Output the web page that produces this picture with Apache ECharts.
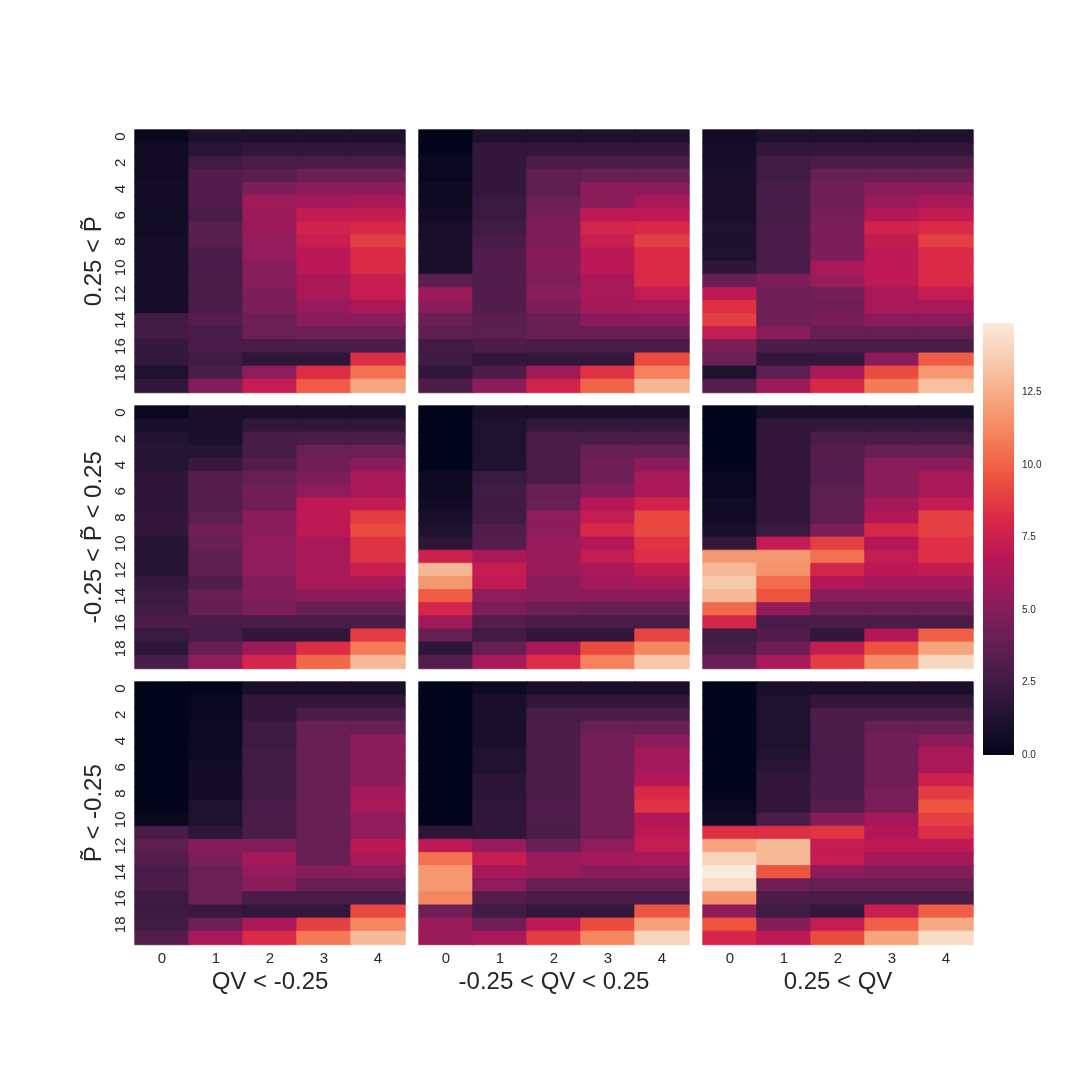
<!DOCTYPE html>
<html><head><meta charset="utf-8">
<script src="https://cdn.jsdelivr.net/npm/echarts@6/dist/echarts.min.js"></script>
<style>html,body{margin:0;padding:0;background:#fff}#chart{width:1080px;height:1080px}</style>
</head><body><div id="chart"></div>
<script>
// ---------- DATA ----------
const xCategories = ['0','1','2','3','4'];
const yCategories = ['0','1','2','3','4','5','6','7','8','9','10','11','12','13','14','15','16','17','18','19'];
const rowNames = ['0.25 < P\u0303', '-0.25 < P\u0303 < 0.25', 'P\u0303 < -0.25'];
const colNames = ['QV < -0.25', '-0.25 < QV < 0.25', '0.25 < QV'];
const colorbarTicks = [0, 2.5, 5, 7.5, 10, 12.5];
const colorMax = 14.9;

// each panel: values[column][row]  (5 columns x 20 rows)
const hiP_loQV = [
  [0.3,0.6,0.6,0.6,0.8,0.8,0.65,0.65,0.85,0.85,0.85,0.85,0.85,0.85,2.6,2.6,2.1,2.1,1.2,2.0],
  [1.2,1.6,2.5,3.2,3.2,3.2,2.9,3.4,3.4,2.9,2.9,2.9,2.9,2.9,3.3,2.9,2.9,2.5,3.0,4.9],
  [1.2,1.9,2.9,3.5,4.7,5.9,5.8,5.8,5.5,5.5,5.1,5.1,4.7,4.7,4.1,4.1,2.9,1.9,5.3,7.2],
  [1.2,1.9,2.9,4.1,5.2,6.0,7.2,7.7,7.4,6.9,6.9,6.3,6.3,5.6,5.2,4.2,2.9,1.9,8.3,9.8],
  [1.2,1.9,2.9,4.1,5.2,6.3,7.2,8.1,8.9,8.2,8.2,7.3,7.3,6.3,5.2,4.2,2.9,8.3,10.5,12.3]
];
const hiP_midQV = [
  [0.0,0.0,0.3,0.3,0.5,0.5,0.7,1.0,1.0,1.0,1.0,3.5,5.8,5.2,4.1,3.7,2.5,2.5,1.9,3.0],
  [1.2,2.0,2.0,2.0,2.0,2.3,2.3,2.5,2.8,3.2,3.2,3.2,3.2,3.2,3.5,3.5,3.0,2.0,3.0,5.2],
  [1.2,2.0,2.9,3.7,3.7,4.1,4.5,4.8,4.8,5.0,5.0,4.8,5.1,4.7,4.0,4.0,2.9,2.0,5.9,7.8],
  [1.2,2.0,2.9,4.0,5.2,5.2,7.0,7.9,7.4,6.9,6.9,6.2,6.2,6.0,5.2,4.0,2.9,2.0,8.5,10.1],
  [1.2,2.0,2.9,4.0,5.2,6.2,7.0,8.1,8.9,8.2,8.2,8.2,7.2,6.2,5.2,4.0,2.9,9.3,11.0,12.9]
];
const hiP_hiQV = [
  [0.7,0.85,0.85,1.0,1.0,1.0,1.0,1.2,1.2,1.2,1.8,4.0,7.0,8.4,8.9,7.2,4.7,4.1,1.2,3.3],
  [1.2,2.0,2.5,2.5,2.8,2.8,2.8,2.9,2.9,2.9,2.9,4.8,4.3,4.3,4.3,5.2,3.0,2.0,3.7,5.8],
  [1.2,2.0,2.9,4.0,4.3,4.3,4.5,4.7,4.7,4.7,6.2,5.7,4.5,4.3,4.5,3.9,2.9,2.0,6.2,8.1],
  [1.2,2.0,2.9,4.0,5.2,5.7,6.6,7.7,7.2,7.0,7.0,7.0,6.2,6.2,5.2,3.9,2.9,5.2,9.3,10.8],
  [1.2,2.0,2.9,4.0,5.2,6.2,7.2,8.2,8.9,8.2,8.2,8.2,7.2,6.2,5.2,3.9,2.9,9.8,11.8,13.2]
];
const midP_loQV = [
  [0.3,1.0,1.4,1.5,1.5,1.8,1.8,1.8,2.0,2.0,1.5,1.5,1.5,2.1,2.4,2.5,3.0,2.2,1.8,2.8],
  [1.0,1.0,1.0,1.5,2.3,3.3,3.3,3.3,3.5,4.3,4.0,3.7,3.7,3.2,3.9,3.9,2.9,2.8,3.9,5.3],
  [1.0,1.9,2.8,2.8,3.2,3.9,4.3,4.3,5.2,5.2,5.4,5.4,5.4,4.9,4.9,4.7,2.9,2.0,5.8,7.9],
  [1.0,1.9,2.9,4.1,4.3,4.7,5.3,7.0,7.0,7.0,6.2,6.2,6.2,6.2,5.2,3.9,2.9,2.0,8.3,10.2],
  [1.0,1.9,2.9,4.1,5.2,6.2,6.2,7.2,8.8,9.3,8.5,8.5,7.4,6.2,5.2,3.9,2.9,8.8,10.8,13.0]
];
const midP_midQV = [
  [0.0,0.0,0.0,0.0,0.0,0.5,0.5,0.7,1.0,1.2,1.8,7.6,12.9,11.8,9.8,7.9,5.9,3.9,1.8,3.3],
  [1.0,1.2,1.2,1.2,1.3,2.2,2.5,2.5,2.5,3.2,3.3,6.2,7.3,7.1,5.3,4.7,3.3,2.5,3.9,6.2],
  [1.0,2.0,2.9,2.9,2.9,2.9,3.9,4.1,5.3,5.3,5.7,5.7,5.7,5.2,5.2,4.1,2.9,2.0,6.2,8.3],
  [1.0,2.0,2.9,4.0,4.3,4.3,4.9,6.6,7.2,8.1,6.6,7.2,6.2,6.0,5.2,3.9,2.9,2.0,9.3,11.0],
  [1.0,2.0,2.9,4.0,5.2,6.2,6.2,7.7,9.2,9.2,8.5,8.3,7.2,6.2,5.2,3.9,2.9,9.1,11.2,13.5]
];
const midP_hiQV = [
  [0.0,0.0,0.0,0.0,0.0,0.3,0.3,0.6,0.6,1.0,2.0,11.8,13.0,13.6,13.0,10.2,7.9,2.5,2.9,4.0],
  [1.0,2.0,2.0,2.0,2.0,2.0,2.0,2.0,2.0,2.3,7.2,11.8,11.6,10.3,9.6,5.5,2.9,3.2,4.3,6.2],
  [1.0,2.0,2.9,3.3,3.3,3.3,3.6,3.6,3.6,4.7,8.9,10.5,7.9,6.6,5.2,4.0,2.9,2.0,7.2,8.8],
  [1.0,2.0,2.9,4.0,5.2,5.2,5.2,6.0,6.6,8.1,6.6,7.2,6.9,6.0,5.2,4.0,2.9,6.6,9.5,11.4],
  [1.0,2.0,2.9,4.0,5.2,6.2,6.2,7.2,8.9,8.9,8.4,8.4,7.2,6.0,5.2,4.0,2.9,9.9,12.2,14.1]
];
const loP_loQV = [
  [0.0,0.0,0.0,0.0,0.0,0.0,0.0,0.0,0.0,0.0,0.3,2.9,3.6,3.3,2.9,2.9,2.4,2.4,2.5,3.3],
  [0.0,0.3,0.3,0.5,0.5,0.5,0.75,0.75,0.75,1.2,1.2,1.8,4.9,4.7,4.1,4.1,4.1,2.3,4.1,6.2],
  [1.0,2.0,2.0,2.4,2.4,2.6,2.6,2.6,2.6,2.9,2.9,2.9,4.9,6.0,5.5,5.2,2.9,2.0,6.2,8.2],
  [1.0,2.0,2.9,4.0,4.0,4.0,4.0,4.0,4.0,4.0,4.0,4.0,4.0,4.0,5.0,4.0,2.9,2.0,8.9,10.8],
  [1.0,2.0,2.9,4.0,5.2,5.2,5.2,5.2,6.0,6.3,5.4,5.4,6.9,6.2,5.2,4.0,2.9,9.2,11.2,13.0]
];
const loP_midQV = [
  [0.0,0.0,0.0,0.0,0.0,0.0,0.0,0.0,0.0,0.0,0.0,1.8,7.0,10.5,11.8,11.8,11.2,4.3,5.7,5.7],
  [0.5,1.0,1.0,1.0,1.0,1.3,1.3,1.7,1.7,1.9,1.9,1.9,5.6,7.3,6.2,5.3,3.3,2.5,4.3,6.2],
  [1.0,2.0,2.8,3.0,3.0,3.0,3.0,3.0,3.0,3.1,3.1,2.9,4.0,5.8,5.7,4.0,2.9,2.0,7.0,8.8],
  [1.0,2.0,3.0,4.0,4.4,4.4,4.4,4.4,4.4,4.4,4.4,4.4,5.3,6.0,5.2,4.0,2.9,2.0,9.3,11.2],
  [1.0,2.0,2.9,4.0,5.2,6.0,6.0,6.6,8.1,8.5,6.6,6.9,7.2,6.2,5.2,4.0,2.9,9.6,12.1,14.0]
];
const loP_hiQV = [
  [0.0,0.0,0.0,0.0,0.0,0.0,0.0,0.0,0.0,0.3,0.6,8.4,12.2,14.0,14.9,14.3,11.5,5.4,9.6,7.9],
  [1.0,1.2,1.2,1.2,1.2,1.3,1.7,2.0,2.0,2.0,2.9,8.4,13.0,13.0,9.6,4.3,3.0,2.5,5.0,7.0],
  [1.0,2.0,3.0,2.9,2.9,2.9,2.9,2.9,2.9,3.3,5.0,8.6,7.2,7.2,5.3,4.0,2.9,2.0,7.2,9.3],
  [1.0,2.0,2.9,4.0,4.3,4.3,4.3,4.3,4.6,4.6,6.0,6.6,7.0,6.0,5.0,4.0,2.9,7.4,9.9,12.2],
  [1.0,2.0,2.9,4.0,5.2,6.2,6.2,7.6,8.8,9.6,8.9,8.3,7.0,6.0,5.0,4.0,2.9,9.9,12.4,14.3]
];

// ---------- STYLE ----------
const rocket = ['#03051A','#221331','#451c47','#691f55','#921c5b','#b91657','#d92847','#ed513e','#f47c56','#f6a47c','#f6c9ab','#faebdd'];
const FONT = '"Liberation Sans", Arial, sans-serif';
const TXT = '#262626';
const panels = [[hiP_loQV, hiP_midQV, hiP_hiQV],[midP_loQV, midP_midQV, midP_hiQV],[loP_loQV, loP_midQV, loP_hiQV]];
const gridLeft = [135, 419, 703];
const gridTop = [130, 406, 682];
const gw = 270, gh = 262.5;

const grids = [], xAxes = [], yAxes = [], series = [];
for (let i = 0; i < 3; i++) {
  for (let j = 0; j < 3; j++) {
    const idx = i * 3 + j;
    grids.push({left: gridLeft[j], top: gridTop[i], width: gw, height: gh, containLabel: false});
    xAxes.push({
      type: 'category', gridIndex: idx, data: xCategories,
      axisLine: {show: false}, axisTick: {show: false}, splitLine: {show: false},
      axisLabel: {show: i === 2, fontSize: 15, color: TXT, margin: 7, fontFamily: FONT},
      name: i === 2 ? colNames[j] : '', nameLocation: 'middle', nameGap: 26,
      nameTextStyle: {fontSize: 24, color: TXT, fontFamily: FONT}
    });
    yAxes.push({
      type: 'category', gridIndex: idx, data: yCategories, inverse: true,
      axisLine: {show: false}, axisTick: {show: false}, splitLine: {show: false},
      axisLabel: {show: j === 0, interval: 1, rotate: 90, fontSize: 15, color: TXT, margin: 7, fontFamily: FONT},
      name: j === 0 ? rowNames[i] : '', nameLocation: 'middle', nameRotate: 90, nameGap: 29,
      nameTextStyle: {fontSize: 24, color: TXT, fontFamily: FONT}
    });
    const vals = panels[i][j];
    const data = [];
    for (let c = 0; c < vals.length; c++) {
      for (let r = 0; r < vals[c].length; r++) {
        const v = vals[c][r];
        // stroke each cell in its own colour to hide anti-aliasing seams between cells
        data.push({value: [c, r, v], itemStyle: {borderColor: echarts.color.lerp(v / colorMax, rocket), borderWidth: 0.8}});
      }
    }
    series.push({type: 'heatmap', xAxisIndex: idx, yAxisIndex: idx, data: data, silent: true, progressive: 0, emphasis: {disabled: true}});
  }
}
// colorbar
grids.push({left: 983, top: 323, width: 31, height: 432});
xAxes.push({type: 'value', gridIndex: 9, min: 0, max: 1, show: false});
yAxes.push({
  type: 'value', gridIndex: 9, min: 0, max: colorMax, interval: 2.5, position: 'right',
  axisLine: {show: false}, axisTick: {show: false}, splitLine: {show: false},
  axisLabel: {fontSize: 10, color: TXT, margin: 8, fontFamily: FONT,
    formatter: v => colorbarTicks.indexOf(v) >= 0 ? v.toFixed(1) : ''}
});
series.push({
  type: 'custom', xAxisIndex: 9, yAxisIndex: 9, silent: true, data: [[0, colorMax]],
  renderItem: (params, api) => {
    const p0 = api.coord([0, 0]);
    const p1 = api.coord([1, api.value(1)]);
    return {type: 'rect', shape: {x: p0[0], y: p1[1], width: p1[0] - p0[0], height: p0[1] - p1[1]},
      style: {fill: new echarts.graphic.LinearGradient(0, 1, 0, 0, rocket.map((c, k) => ({offset: k / (rocket.length - 1), color: c})))}};
  }
});

const chart = echarts.init(document.getElementById('chart'), null, {renderer: 'canvas'});
chart.setOption({
  backgroundColor: '#ffffff',
  animation: false,
  grid: grids, xAxis: xAxes, yAxis: yAxes,
  visualMap: {show: false, type: 'continuous', min: 0, max: colorMax, seriesIndex: [0,1,2,3,4,5,6,7,8], inRange: {color: rocket}},
  series: series
});
</script></body></html>
